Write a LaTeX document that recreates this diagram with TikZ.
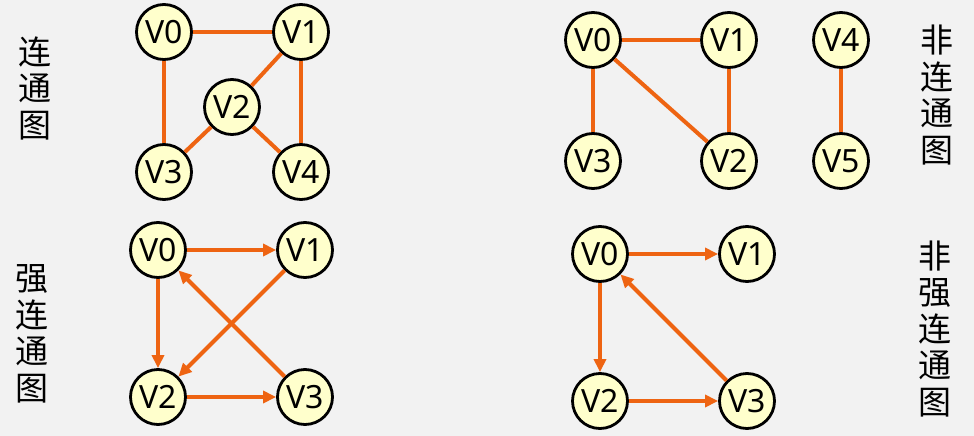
\documentclass[tikz,border=0pt]{standalone}
\usepackage{fontspec}
\setmainfont{Noto Sans}
\newfontfamily\cjk{Noto Sans CJK SC}
\usetikzlibrary{arrows.meta}
\definecolor{bg}{HTML}{F2F2F2}
\definecolor{vfill}{HTML}{FFFFCC}
\definecolor{edgeor}{HTML}{EE6412}
\tikzset{
  vert/.style={circle,draw=black,line width=2.8pt,fill=vfill,minimum size=55pt,inner sep=0pt,font=\fontsize{32}{32}\selectfont},
  edge/.style={draw=edgeor,line width=4pt},
  arr/.style={edge,-{Triangle[length=13pt,width=12pt]}},
  vlabel/.style={align=center,font=\cjk\fontsize{33}{36.5}\selectfont,inner sep=0pt}
}
\begin{document}
\begin{tikzpicture}[x=1pt,y=-1pt]
\fill[bg] (0,0) rectangle (974,436);
\useasboundingbox (0,0) rectangle (974,436);
% top-left: connected
\node[vlabel] (t1) at (35,88) {连\\通\\图};
\node[vert] (a0) at (164,32) {V0};
\node[vert] (a1) at (301,32) {V1};
\node[vert] (a2) at (232,107) {V2};
\node[vert] (a3) at (164,172) {V3};
\node[vert] (a4) at (301,172) {V4};
\draw[edge] (a0) -- (a1);
\draw[edge] (a0) -- (a3);
\draw[edge] (a1) -- (a4);
\draw[edge] (a1) -- (a2);
\draw[edge] (a2) -- (a3);
\draw[edge] (a2) -- (a4);
% top-right: not connected
\node[vlabel] (t2) at (937,95) {非\\连\\通\\图};
\node[vert] (b0) at (593,40) {V0};
\node[vert] (b1) at (729,40) {V1};
\node[vert] (b4) at (841,40) {V4};
\node[vert] (b3) at (593,161) {V3};
\node[vert] (b2) at (729,161) {V2};
\node[vert] (b5) at (841,161) {V5};
\draw[edge] (b0) -- (b1);
\draw[edge] (b0) -- (b3);
\draw[edge] (b0) -- (b2);
\draw[edge] (b1) -- (b2);
\draw[edge] (b4) -- (b5);
% bottom-left: strongly connected
\node[vlabel] (t3) at (32,334) {强\\连\\通\\图};
\node[vert] (c0) at (158,250) {V0};
\node[vert] (c1) at (305,250) {V1};
\node[vert] (c2) at (158,397) {V2};
\node[vert] (c3) at (305,397) {V3};
\draw[arr] (c0) -- (c1);
\draw[arr] (c0) -- (c2);
\draw[arr] (c1) -- (c2);
\draw[arr] (c2) -- (c3);
\draw[arr] (c3) -- (c0);
% bottom-right: not strongly connected
\node[vlabel] (t4) at (935,329) {非\\强\\连\\通\\图};
\node[vert] (d0) at (600,254) {V0};
\node[vert] (d1) at (747,254) {V1};
\node[vert] (d2) at (600,401) {V2};
\node[vert] (d3) at (747,401) {V3};
\draw[arr] (d0) -- (d1);
\draw[arr] (d0) -- (d2);
\draw[arr] (d2) -- (d3);
\draw[arr] (d3) -- (d0);
\end{tikzpicture}
\end{document}
